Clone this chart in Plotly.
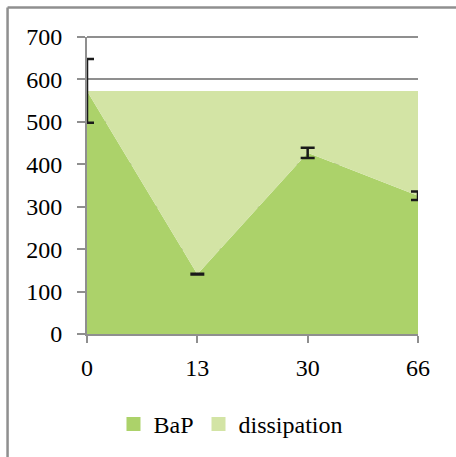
import plotly.graph_objects as go

days = ['0', '13', '30', '66']
bap = [573, 141, 427, 326]
bap_err = [75, 1, 12, 10]
dissipation = [0, 432, 146, 247]
y_ticks = [0, 100, 200, 300, 400, 500, 600, 700]

x = list(range(len(days)))
font = 'Liberation Serif'
grey = '#8f8f8f'

fig = go.Figure()
fig.add_trace(go.Scatter(
    x=x, y=bap, stackgroup='one', mode='none',
    fillcolor='#acd26a', name='BaP', showlegend=False,
))
fig.add_trace(go.Scatter(
    x=x, y=dissipation, stackgroup='one', mode='none',
    fillcolor='#d3e4a5', name='dissipation', showlegend=False,
))
# error bars on BaP
fig.add_trace(go.Scatter(
    x=x, y=bap, mode='markers', marker=dict(size=1, opacity=0),
    error_y=dict(type='data', array=bap_err, color='#1a1a1a', thickness=2.5, width=7),
    showlegend=False, hoverinfo='skip',
))
# legend swatches
for name, c in [('BaP', '#acd26a'), ('dissipation', '#d3e4a5')]:
    fig.add_trace(go.Scatter(
        x=[None], y=[None], mode='markers', name=name,
        marker=dict(symbol='square', size=14, color=c),
    ))

# top gridline (plotly drops the one sitting on the range edge)
fig.add_shape(type='line', xref='paper', yref='paper', x0=0, x1=1, y0=1, y1=1,
              line=dict(color=grey, width=2))

# chart border (only top and left edges fall inside the picture)
fig.add_shape(type='line', xref='paper', yref='paper',
              x0=-0.240, y0=1.099, x1=1.3, y1=1.099,
              line=dict(color=grey, width=2.5))
fig.add_shape(type='line', xref='paper', yref='paper',
              x0=-0.240, y0=-0.6, x1=-0.240, y1=1.099,
              line=dict(color=grey, width=2.5))

fig.update_layout(
    width=456, height=457,
    margin=dict(l=87, r=38, t=37, b=122),
    plot_bgcolor='white', paper_bgcolor='white',
    font=dict(family=font, size=24, color='black'),
    showlegend=True,
    legend=dict(orientation='h', x=0.435, xanchor='center', y=-0.30, yanchor='middle',
                font=dict(size=24), itemwidth=30, traceorder='normal'),
    xaxis=dict(range=[0, 3], tickvals=x, ticktext=days, showgrid=False, zeroline=False,
               showline=True, linecolor=grey, linewidth=2,
               ticks='outside', ticklen=7, tickwidth=2, tickcolor=grey,
               ticklabelstandoff=4),
    yaxis=dict(range=[0, 700], tickvals=y_ticks,
               showgrid=True, gridcolor=grey, gridwidth=2,
               zeroline=False, showline=True, linecolor=grey, linewidth=2,
               ticks='outside', ticklen=8, tickwidth=2, tickcolor=grey,
               ticklabelstandoff=10),
)

fig.write_html('out.html', config={'displayModeBar': False},
               post_script="document.body.style.margin='0';"
                           "document.body.style.overflow='hidden';"
                           "document.documentElement.style.overflow='hidden';")
